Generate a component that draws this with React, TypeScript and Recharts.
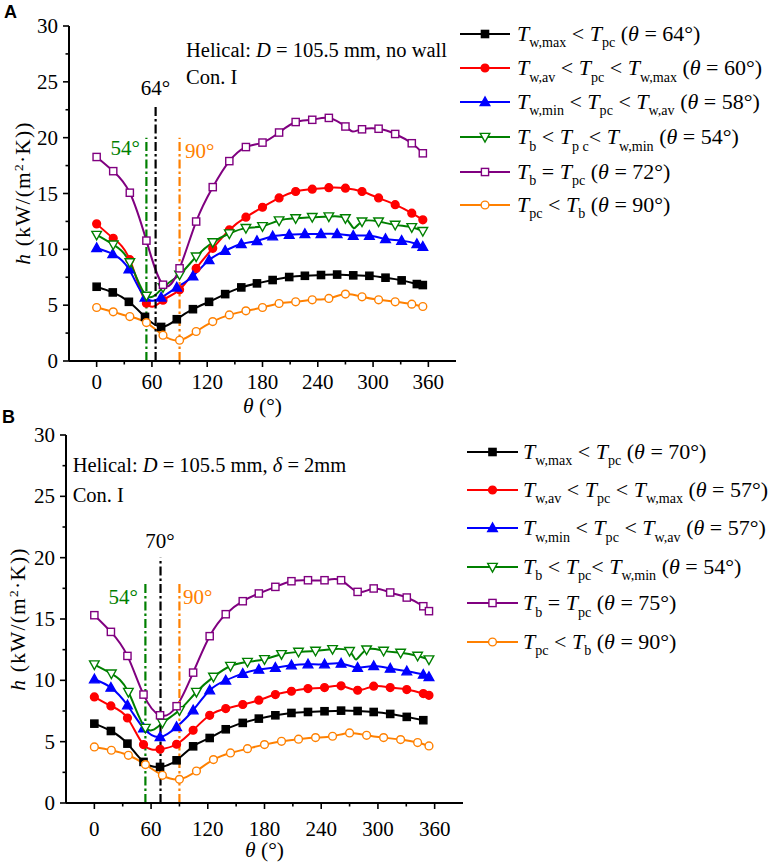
import React from 'react';
import { LineChart, Line, XAxis, YAxis, ReferenceLine } from 'recharts';

const FONT = '"Liberation Serif", "Times New Roman", Times, serif';

// ---------- Panel A data ----------
const thetaA18 = [0, 18, 36, 54, 72, 90, 108, 126, 144, 162, 180, 198, 216, 234, 252, 270, 288, 306, 324, 342, 354];
const thetaA17 = [0, 17.5, 35, 52.5, 70, 87, 104.5, 122, 139.5, 157, 174, 191, 209, 226, 243.5, 261, 278.5, 296, 313.5, 331, 347.5, 354];
const thetaAGreen = [0, 18, 36, 54, 72, 90, 108, 126, 144, 162, 180, 198, 216, 234, 252, 270, 279, 288, 306, 324, 342, 354];
const thetaAPurple = [0, 18, 36, 54, 72, 90, 108, 126, 144, 162, 180, 198, 216, 234, 252, 270, 278, 288, 306, 324, 342, 354];
const hA_wmax = [6.65, 6.14, 5.3, 3.95, 3.05, 3.74, 4.64, 5.3, 5.99, 6.59, 6.95, 7.25, 7.52, 7.63, 7.7, 7.74, 7.67, 7.63, 7.46, 7.22, 6.89, 6.8];
const hA_wav = [12.28, 10.99, 9.07, 5.18, 5.45, 6.38, 8.29, 10.09, 11.74, 12.88, 13.77, 14.6, 15.18, 15.39, 15.52, 15.48, 15.18, 14.6, 14.0, 13.24, 12.64];
const hA_wmin = [10.12, 9.58, 8.23, 5.69, 5.69, 6.59, 7.6, 9.04, 9.88, 10.48, 10.75, 11.17, 11.32, 11.38, 11.38, 11.38, 11.23, 11.23, 10.93, 10.78, 10.48, 10.24];
const hA_bLt = [11.29, 10.42, 8.83, 5.84, 6.59, 7.73, 9.35, 10.63, 11.42, 11.9, 12.07, 12.58, 12.78, 12.88, 12.94, 12.78, 11.9, 12.49, 12.49, 12.19, 11.98, 11.63];
const hA_bEq = [18.27, 17.0, 15.07, 10.78, 6.83, 8.3, 12.49, 15.57, 17.9, 19.16, 19.56, 20.46, 21.4, 21.6, 21.77, 21.0, 20.55, 20.75, 20.8, 20.33, 19.5, 18.6];
const hA_pcLt = [4.79, 4.4, 3.98, 3.44, 2.31, 1.86, 2.64, 3.53, 4.13, 4.49, 4.79, 5.15, 5.3, 5.48, 5.6, 5.99, 5.75, 5.48, 5.3, 5.09, 4.88];
const hiddenA_green = [279];
const hiddenA_purple = [278];
const legendA = [
  'T_{w,max} < T_{pc} (θ = 64°)',
  'T_{w,av} < T_{pc} < T_{w,max} (θ = 60°)',
  'T_{w,min} < T_{pc} < T_{w,av} (θ = 58°)',
  'T_{b} < T_{p c}< T_{w,min} (θ = 54°)',
  'T_{b} = T_{pc} (θ = 72°)',
  'T_{pc} < T_{b} (θ = 90°)',
];

// ---------- Panel B data ----------
const thetaB17 = [0, 17.5, 35, 52, 69.5, 87, 104.5, 122, 139, 157, 174, 191.5, 208.5, 226, 243.5, 261, 278.5, 295.5, 313, 330.5, 348, 354];
const thetaB17Black = [0, 17.5, 35, 52, 69.5, 87, 104.5, 122, 139, 157, 174, 191.5, 208.5, 226, 243.5, 261, 278.5, 295.5, 313, 330.5, 348];
const thetaB18 = [0, 18, 36, 54, 72, 90, 108, 126, 144, 162, 180, 198, 216, 234, 252, 270, 288, 306, 324, 342, 354];
const thetaBGreen = [0, 18, 36, 54, 72, 90, 108, 126, 144, 162, 180, 198, 216, 234, 252, 270, 277, 288, 306, 324, 342, 354];
const hB_wmax = [6.47, 5.87, 4.84, 3.35, 2.94, 3.48, 4.62, 5.3, 6.01, 6.53, 6.88, 7.15, 7.34, 7.42, 7.48, 7.53, 7.5, 7.42, 7.26, 7.02, 6.75];
const hB_wav = [8.65, 7.91, 6.93, 4.76, 4.38, 4.79, 5.93, 7.15, 7.7, 8.03, 8.38, 8.84, 9.11, 9.33, 9.41, 9.55, 9.19, 9.52, 9.41, 9.25, 8.92, 8.78];
const hB_wmin = [10.09, 9.41, 7.97, 6.1, 5.38, 6.2, 7.56, 9.19, 10.0, 10.55, 10.88, 11.04, 11.23, 11.31, 11.31, 11.37, 11.04, 11.17, 10.96, 10.74, 10.47, 10.28];
const hB_bLt = [11.29, 10.55, 9.05, 6.12, 6.53, 7.56, 9.05, 10.28, 11.17, 11.5, 11.72, 12.13, 12.32, 12.4, 12.54, 12.38, 11.7, 12.51, 12.4, 12.24, 11.99, 11.7];
const hB_bEq = [15.31, 13.95, 11.99, 8.84, 7.15, 7.89, 10.63, 13.6, 15.39, 16.45, 17.08, 17.62, 18.08, 18.16, 18.16, 18.16, 17.21, 17.49, 17.16, 16.75, 16.04, 15.64];
const hB_pcLt = [4.57, 4.3, 3.89, 3.13, 2.26, 1.93, 2.61, 3.54, 4.08, 4.43, 4.76, 5.03, 5.2, 5.33, 5.44, 5.71, 5.52, 5.33, 5.17, 4.93, 4.65];
const hiddenB_green = [277];
const legendB = [
  'T_{w,max} < T_{pc} (θ = 70°)',
  'T_{w,av} < T_{pc} < T_{w,max} (θ = 57°)',
  'T_{w,min} < T_{pc} < T_{w,av} (θ = 57°)',
  'T_{b} < T_{pc}< T_{w,min} (θ = 54°)',
  'T_{b} = T_{pc} (θ = 75°)',
  'T_{pc} < T_{b} (θ = 90°)',
];

// ---------- axes ----------
const xTicks = [0, 30, 60, 90, 120, 150, 180, 210, 240, 270, 300, 330, 360];
const yTicks = [0, 2.5, 5, 7.5, 10, 12.5, 15, 17.5, 20, 22.5, 25, 27.5, 30];

// dash-dot marker lines
const refA = [
  { x: 54, top: 20, color: '#008000' },
  { x: 64, top: 23, color: '#000000' },
  { x: 90, top: 20, color: '#ff8000' },
];
const refB = [
  { x: 54, top: 18, color: '#008000' },
  { x: 70, top: 20, color: '#000000' },
  { x: 90, top: 18, color: '#ff8000' },
];

type Shape = 'square' | 'circle' | 'up' | 'down';
const seriesStyle: { color: string; shape: Shape; filled: boolean }[] = [
  { color: '#000000', shape: 'square', filled: true },
  { color: '#ff0000', shape: 'circle', filled: true },
  { color: '#0000ff', shape: 'up', filled: true },
  { color: '#008000', shape: 'down', filled: false },
  { color: '#800080', shape: 'square', filled: false },
  { color: '#ff8000', shape: 'circle', filled: false },
];

const seriesA = [
  { theta: thetaA17, h: hA_wmax, hidden: [] as number[] },
  { theta: thetaA18, h: hA_wav, hidden: [] as number[] },
  { theta: thetaA17, h: hA_wmin, hidden: [] as number[] },
  { theta: thetaAGreen, h: hA_bLt, hidden: hiddenA_green },
  { theta: thetaAPurple, h: hA_bEq, hidden: hiddenA_purple },
  { theta: thetaA18, h: hA_pcLt, hidden: [] as number[] },
];
const seriesB = [
  { theta: thetaB17Black, h: hB_wmax, hidden: [] as number[] },
  { theta: thetaB17, h: hB_wav, hidden: [] as number[] },
  { theta: thetaB17, h: hB_wmin, hidden: [] as number[] },
  { theta: thetaBGreen, h: hB_bLt, hidden: hiddenB_green },
  { theta: thetaB17, h: hB_bEq, hidden: [] as number[] },
  { theta: thetaB18, h: hB_pcLt, hidden: [] as number[] },
];

function Marker({ x, y, shape, color, filled }: { x: number; y: number; shape: Shape; color: string; filled: boolean }) {
  const fill = filled ? color : '#ffffff';
  const sw = 1.4;
  if (shape === 'square') return <rect x={x - 3.6} y={y - 3.6} width={7.2} height={7.2} fill={fill} stroke={color} strokeWidth={sw} />;
  if (shape === 'circle') return <circle cx={x} cy={y} r={3.9} fill={fill} stroke={color} strokeWidth={sw} />;
  if (shape === 'up') return <polygon points={`${x},${y - 5} ${x - 4.8},${y + 3.6} ${x + 4.8},${y + 3.6}`} fill={fill} stroke={color} strokeWidth={sw} />;
  return <polygon points={`${x - 4.8},${y - 3.6} ${x + 4.8},${y - 3.6} ${x},${y + 5}`} fill={fill} stroke={color} strokeWidth={sw} />;
}

const makeDot = (shape: Shape, color: string, filled: boolean) => (props: any) => {
  const { cx, cy, payload, index } = props;
  if (cx == null || cy == null || !payload || !payload.mark) return <g key={`d-${index}`} />;
  return <g key={`d-${index}`}><Marker x={cx} y={cy} shape={shape} color={color} filled={filled} /></g>;
};

const tickTextStyle: React.CSSProperties = { fontFamily: FONT, fontSize: 21 };

const XTickBottom = (labelDy: number) => (props: any) => {
  const { x, y, payload } = props;
  const v = payload.value;
  const major = v % 60 === 0;
  return (
    <g>
      <line x1={x} x2={x} y1={y} y2={y + (major ? 6 : 3.5)} stroke="#000" strokeWidth={1.6} />
      {major && (
        <text x={x} y={y + labelDy} textAnchor="middle" fontFamily={FONT} fontSize={21} style={tickTextStyle} fill="#000">
          {v}
        </text>
      )}
    </g>
  );
};
const XTickTop = (props: any) => {
  const { x, y, payload } = props;
  const major = payload.value % 60 === 0;
  return <line x1={x} x2={x} y1={y} y2={y + (major ? 5 : 3)} stroke="#000" strokeWidth={1.6} />;
};
const YTickLeft = (props: any) => {
  const { x, y, payload } = props;
  const v = payload.value;
  const major = v % 5 === 0;
  return (
    <g>
      <line x1={x} x2={x - (major ? 6 : 3.5)} y1={y} y2={y} stroke="#000" strokeWidth={1.6} />
      {major && (
        <text x={x - 11} y={y + 7} textAnchor="end" fontFamily={FONT} fontSize={21} style={tickTextStyle} fill="#000">
          {v}
        </text>
      )}
    </g>
  );
};
const YTickRight = (props: any) => {
  const { x, y, payload } = props;
  const major = payload.value % 5 === 0;
  return <line x1={x} x2={x - (major ? 5 : 3)} y1={y} y2={y} stroke="#000" strokeWidth={1.6} />;
};

function Panel({ series, refs, height, margin, yWidth, xHeight, labelDy }: any) {
  return (
    <LineChart width={470} height={height} margin={margin}>
      <XAxis xAxisId="x" type="number" dataKey="theta" domain={[-30, 390]} ticks={xTicks} interval={0}
        allowDataOverflow tickSize={0} tickMargin={0} tickLine={false} height={xHeight}
        axisLine={{ stroke: '#000', strokeWidth: 2 }} tick={XTickBottom(labelDy)} />
      <XAxis xAxisId="top" orientation="top" type="number" dataKey="theta" domain={[-30, 390]} ticks={xTicks} interval={0}
        allowDataOverflow tickSize={0} tickMargin={0} tickLine={false} height={0}
        axisLine={{ stroke: '#000', strokeWidth: 2 }} tick={XTickTop} />
      <YAxis yAxisId="y" type="number" domain={[0, 30]} ticks={yTicks} interval={0} allowDataOverflow
        tickSize={0} tickMargin={0} tickLine={false} width={yWidth}
        axisLine={{ stroke: '#000', strokeWidth: 2 }} tick={YTickLeft} />
      <YAxis yAxisId="r" orientation="right" type="number" domain={[0, 30]} ticks={yTicks} interval={0} allowDataOverflow
        tickSize={0} tickMargin={0} tickLine={false} width={0}
        axisLine={{ stroke: '#000', strokeWidth: 2 }} tick={YTickRight} />
      {series.map((s: any, i: number) => {
        const st = seriesStyle[i];
        const data = s.theta.map((t: number, k: number) => ({ theta: t, h: s.h[k], mark: !s.hidden.includes(t) }));
        return (
          <Line key={i} xAxisId="x" yAxisId="y" data={data} dataKey="h" type="natural" stroke={st.color}
            strokeWidth={2} isAnimationActive={false} dot={makeDot(st.shape, st.color, st.filled)} activeDot={false} />
        );
      })}
      {refs.map((r: any, i: number) => (
        <ReferenceLine key={`r${i}`} xAxisId="x" yAxisId="y" segment={[{ x: r.x, y: 0 }, { x: r.x, y: r.top }]}
          stroke={r.color} strokeWidth={2.2} strokeDasharray="9 3 2.5 3" ifOverflow="visible" />
      ))}
    </LineChart>
  );
}

function Rich({ s }: { s: string }) {
  const parts: React.ReactNode[] = [];
  const re = /T_\{([^}]*)\}|θ/g;
  let last = 0;
  let m: RegExpExecArray | null;
  let k = 0;
  while ((m = re.exec(s))) {
    if (m.index > last) parts.push(<span key={k++} style={{ whiteSpace: 'pre' }}>{s.slice(last, m.index)}</span>);
    if (m[0] === 'θ') parts.push(<i key={k++}>θ</i>);
    else {
      parts.push(<i key={k++}>T</i>);
      parts.push(
        <span key={k++} style={{ fontSize: '0.64em', position: 'relative', top: '0.45em', whiteSpace: 'pre' }}>{m[1]}</span>
      );
    }
    last = m.index + m[0].length;
  }
  if (last < s.length) parts.push(<span key={k++} style={{ whiteSpace: 'pre' }}>{s.slice(last)}</span>);
  return <>{parts}</>;
}

function Legend({ labels, rows, lineX0, lineX1, textX }: any) {
  return (
    <>
      {labels.map((lab: string, i: number) => {
        const st = seriesStyle[i];
        const cy = rows[i];
        return (
          <React.Fragment key={i}>
            <svg style={{ position: 'absolute', left: lineX0 - 2, top: cy - 8, overflow: 'visible' }} width={lineX1 - lineX0 + 4} height={16}>
              <line x1={2} x2={lineX1 - lineX0 + 2} y1={8} y2={8} stroke={st.color} strokeWidth={2.2} />
              <Marker x={(lineX1 - lineX0) / 2 + 2} y={8} shape={st.shape} color={st.color} filled={st.filled} />
            </svg>
            <div style={{ position: 'absolute', left: textX, top: cy - 11, height: 22, lineHeight: '22px', fontSize: 22, fontFamily: FONT, whiteSpace: 'nowrap', color: '#000' }}>
              <Rich s={lab} />
            </div>
          </React.Fragment>
        );
      })}
    </>
  );
}

const T = (left: number, cy: number, fs: number, content: React.ReactNode, color = '#000', align: 'left' | 'center' | 'right' = 'left') => {
  const w = 400;
  const l = align === 'left' ? left : align === 'center' ? left - w / 2 : left - w;
  return (
    <div style={{ position: 'absolute', left: l, width: w, top: cy - fs / 2, height: fs, lineHeight: `${fs}px`, fontSize: fs, fontFamily: FONT, color, textAlign: align, whiteSpace: 'nowrap' }}>
      {content}
    </div>
  );
};

const YTitle = (cx: number, cy: number) => (
  <div style={{ position: 'absolute', left: cx - 100, top: cy - 12, width: 200, height: 24, lineHeight: '24px', textAlign: 'center', transform: 'rotate(-90deg)', fontFamily: FONT, fontSize: 21.5, letterSpacing: '1.2px', whiteSpace: 'nowrap' }}>
    <i>h</i> (kW/(m<sup style={{ fontSize: '0.62em', verticalAlign: '0.55em', lineHeight: 0 }}>2</sup>·K))
  </div>
);

export default function App() {
  return (
    <div style={{ position: 'absolute', left: 0, top: 0, width: 782, height: 867, background: '#fff', overflow: 'hidden', fontFamily: FONT }}>
      <div style={{ position: 'absolute', left: 0, top: 0 }}>
        <Panel series={seriesA} refs={refA} height={420} margin={{ top: 26, right: 14, bottom: 0, left: 0 }} yWidth={69} xHeight={59} labelDy={28} />
      </div>
      <div style={{ position: 'absolute', left: 0, top: 410 }}>
        <Panel series={seriesB} refs={refB} height={457} margin={{ top: 25, right: 7, bottom: 0, left: 0 }} yWidth={66} xHeight={64} labelDy={33} />
      </div>

      {/* panel letters */}
      <div style={{ position: 'absolute', left: 4, top: 2, fontFamily: '"Liberation Sans", Arial, sans-serif', fontWeight: 'bold', fontSize: 18 }}>A</div>
      <div style={{ position: 'absolute', left: 2, top: 407, fontFamily: '"Liberation Sans", Arial, sans-serif', fontWeight: 'bold', fontSize: 18 }}>B</div>

      {/* axis titles */}
      {YTitle(23, 193)}
      {YTitle(18, 619)}
      {T(262.5, 407, 21.5, <><i>θ</i> (°)</>, '#000', 'center')}
      {T(264.5, 851, 21.5, <><i>θ</i> (°)</>, '#000', 'center')}

      {/* annotations panel A */}
      {T(186, 50, 20.5, <>Helical: <i>D</i> = 105.5 mm, no wall</>)}
      {T(186, 77.5, 20.5, <>Con. I</>)}
      {T(140, 148, 21, <>54°</>, '#008000', 'right')}
      {T(155.5, 88, 21, <>64°</>, '#000', 'center')}
      {T(185, 151.5, 21, <>90°</>, '#ff8000', 'left')}

      {/* annotations panel B */}
      {T(72.7, 465, 20.5, <>Helical: <i>D</i> = 105.5 mm, <i>δ</i> = 2mm</>)}
      {T(72.7, 495.5, 20.5, <>Con. I</>)}
      {T(138, 597, 21, <>54°</>, '#008000', 'right')}
      {T(160, 541.7, 21, <>70°</>, '#000', 'center')}
      {T(183, 597.5, 21, <>90°</>, '#ff8000', 'left')}

      <Legend labels={legendA} rows={[34, 68.3, 101.7, 137.3, 171.7, 205]} lineX0={460} lineX1={510} textX={517} />
      <Legend labels={legendB} rows={[452, 490, 528.3, 566.7, 603.3, 641.7]} lineX0={467} lineX1={518} textX={523} />
    </div>
  );
}
